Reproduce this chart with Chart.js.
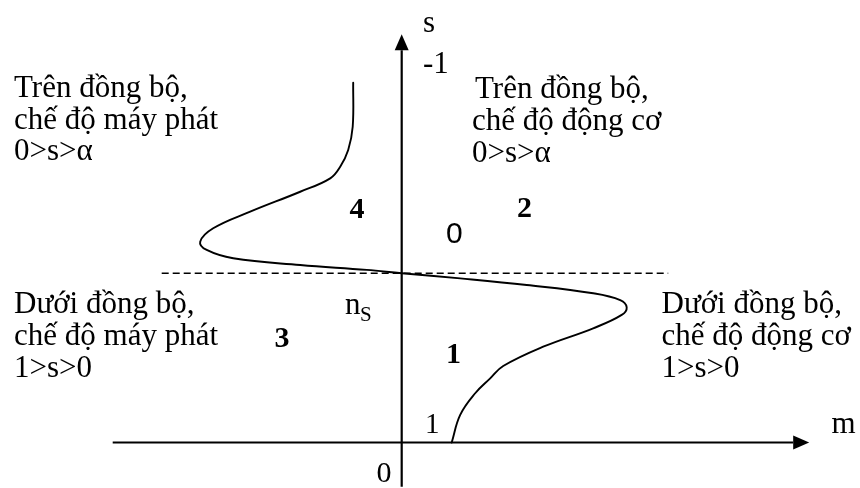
<!DOCTYPE html>
<html>
<head>
<meta charset="utf-8">
<script src="https://cdn.jsdelivr.net/npm/chart.js@4/dist/chart.umd.min.js"></script>
<style>
  html, body { margin: 0; padding: 0; background: #ffffff; }
  #wrap { width: 860px; height: 488px; }
</style>
</head>
<body>
<div id="wrap"><canvas id="c" width="860" height="488"></canvas></div>
<script>
// ---- data (torque m vs slip s, schematic characteristic) ----
const torqueM = [-0.97, -0.98, -1.07, -1.23, -1.43, -2.03, -3.03, -3.77, -4.03, -3.90, -3.37, -2.03, -0.70, 0,
                 1.17, 2.50, 3.83, 4.37, 4.50, 4.40, 3.83, 2.83, 2.03, 1.77, 1.47, 1.17, 1.00];
const slipS   = [-1.126, -0.866, -0.729, -0.630, -0.561, -0.482, -0.364, -0.266, -0.187, -0.138, -0.089, -0.049, -0.020, 0,
                 0.030, 0.069, 0.118, 0.158, 0.201, 0.246, 0.325, 0.434, 0.548, 0.621, 0.709, 0.837, 1.00];
const axisLabels = ["s", "-1", "m", "1", "0"];
const regionNumbers = ["1", "2", "3", "4"];
const regionTexts = {
  topLeft:  ["Trên đồng bộ,", "chế độ máy phát", "0>s>α"],
  topRight: ["Trên đồng bộ,", "chế độ động cơ", "0>s>α"],
  botLeft:  ["Dưới đồng bộ,", "chế độ máy phát", "1>s>0"],
  botRight: ["Dưới đồng bộ,", "chế độ động cơ", "1>s>0"]
};
const syncLabel = ["n", "S"];
const zeroMark = "0";

// ---- geometry of the drawing (scale units) ----
const X_MIN = -8.034, X_MAX = 9.166;
const Y_MIN = -1.6153, Y_MAX = 1.2689;
const hAxis = { from: -5.78, to: 7.83, s: 1 };       // m-axis at s = 1
const vAxis = { from: 1.262, to: -1.318, m: 0 };     // s-axis at m = 0
const syncLine = { from: -4.80, to: 5.33, s: 0 };

const curve = torqueM.map((m, i) => ({ x: m, y: slipS[i] }));

const SERIF = '"Liberation Serif", "Times New Roman", serif';
const SANS = '"Liberation Sans", Arial, sans-serif';

const annotate = {
  id: 'annotate',
  afterDraw(chart) {
    const ctx = chart.ctx;
    const xs = chart.scales.x, ys = chart.scales.y;
    ctx.save();
    ctx.fillStyle = '#000';
    // arrowheads
    const ax = xs.getPixelForValue(hAxis.to), ay = ys.getPixelForValue(hAxis.s);
    ctx.beginPath();
    ctx.moveTo(ax + 16, ay); ctx.lineTo(ax, ay - 7); ctx.lineTo(ax, ay + 7); ctx.closePath(); ctx.fill();
    const vx = xs.getPixelForValue(vAxis.m), vy = ys.getPixelForValue(vAxis.to);
    ctx.beginPath();
    ctx.moveTo(vx, vy - 16); ctx.lineTo(vx - 7, vy); ctx.lineTo(vx + 7, vy); ctx.closePath(); ctx.fill();

    ctx.textBaseline = 'alphabetic';
    ctx.textAlign = 'left';
    ctx.font = '31px ' + SERIF;
    const block = (lines, x, y0, dx) => {
      lines.forEach((t, i) => ctx.fillText(t, x + (i === 0 ? (dx || 0) : 0), y0 + i * 31.8));
    };
    block(regionTexts.topLeft, 14, 96.7);
    block(regionTexts.topRight, 472, 98.3, 3);
    block(regionTexts.botLeft, 14, 313.3);
    block(regionTexts.botRight, 661.5, 313.3);

    ctx.fillText(axisLabels[0], 423, 31.7);
    ctx.fillText(axisLabels[1], 423, 73.3);
    ctx.fillText(axisLabels[2], 831.5, 433.3);
    ctx.font = '29px ' + SERIF;
    ctx.fillText(axisLabels[3], 425, 433.3);
    ctx.font = '30px ' + SERIF;
    ctx.fillText(axisLabels[4], 376.5, 481.7);

    // n_S
    ctx.font = '31px ' + SERIF;
    ctx.fillText(syncLabel[0], 345, 313.5);
    ctx.font = '21px ' + SERIF;
    ctx.fillText(syncLabel[1], 360, 320.5);

    // region numbers
    ctx.font = 'bold 30px ' + SERIF;
    ctx.fillText(regionNumbers[0], 446, 363.3);
    ctx.fillText(regionNumbers[1], 517, 217);
    ctx.fillText(regionNumbers[2], 274.5, 346.7);
    ctx.fillText(regionNumbers[3], 349.5, 218.3);

    ctx.font = '30px ' + SANS;
    ctx.fillText(zeroMark, 446, 243.3);
    ctx.restore();
  }
};

new Chart(document.getElementById('c'), {
  type: 'scatter',
  data: {
    datasets: [
      { data: [{ x: syncLine.from, y: syncLine.s }, { x: syncLine.to, y: syncLine.s }],
        showLine: true, borderColor: '#000', borderWidth: 1.6, borderDash: [7, 4], pointRadius: 0 },
      { data: [{ x: hAxis.from, y: hAxis.s }, { x: hAxis.to, y: hAxis.s }],
        showLine: true, borderColor: '#000', borderWidth: 2.2, pointRadius: 0 },
      { data: [{ x: vAxis.m, y: vAxis.from }, { x: vAxis.m, y: vAxis.to }],
        showLine: true, borderColor: '#000', borderWidth: 2.2, pointRadius: 0 },
      { data: curve, showLine: true, borderColor: '#000', borderWidth: 1.9, pointRadius: 0,
        tension: 0.4, borderCapStyle: 'round' }
    ]
  },
  options: {
    responsive: false,
    animation: false,
    layout: { padding: 0 },
    plugins: { legend: { display: false }, tooltip: { enabled: false } },
    scales: {
      x: { type: 'linear', display: false, min: X_MIN, max: X_MAX },
      y: { type: 'linear', display: false, min: Y_MIN, max: Y_MAX, reverse: true }
    }
  },
  plugins: [annotate]
});
</script>
</body>
</html>
